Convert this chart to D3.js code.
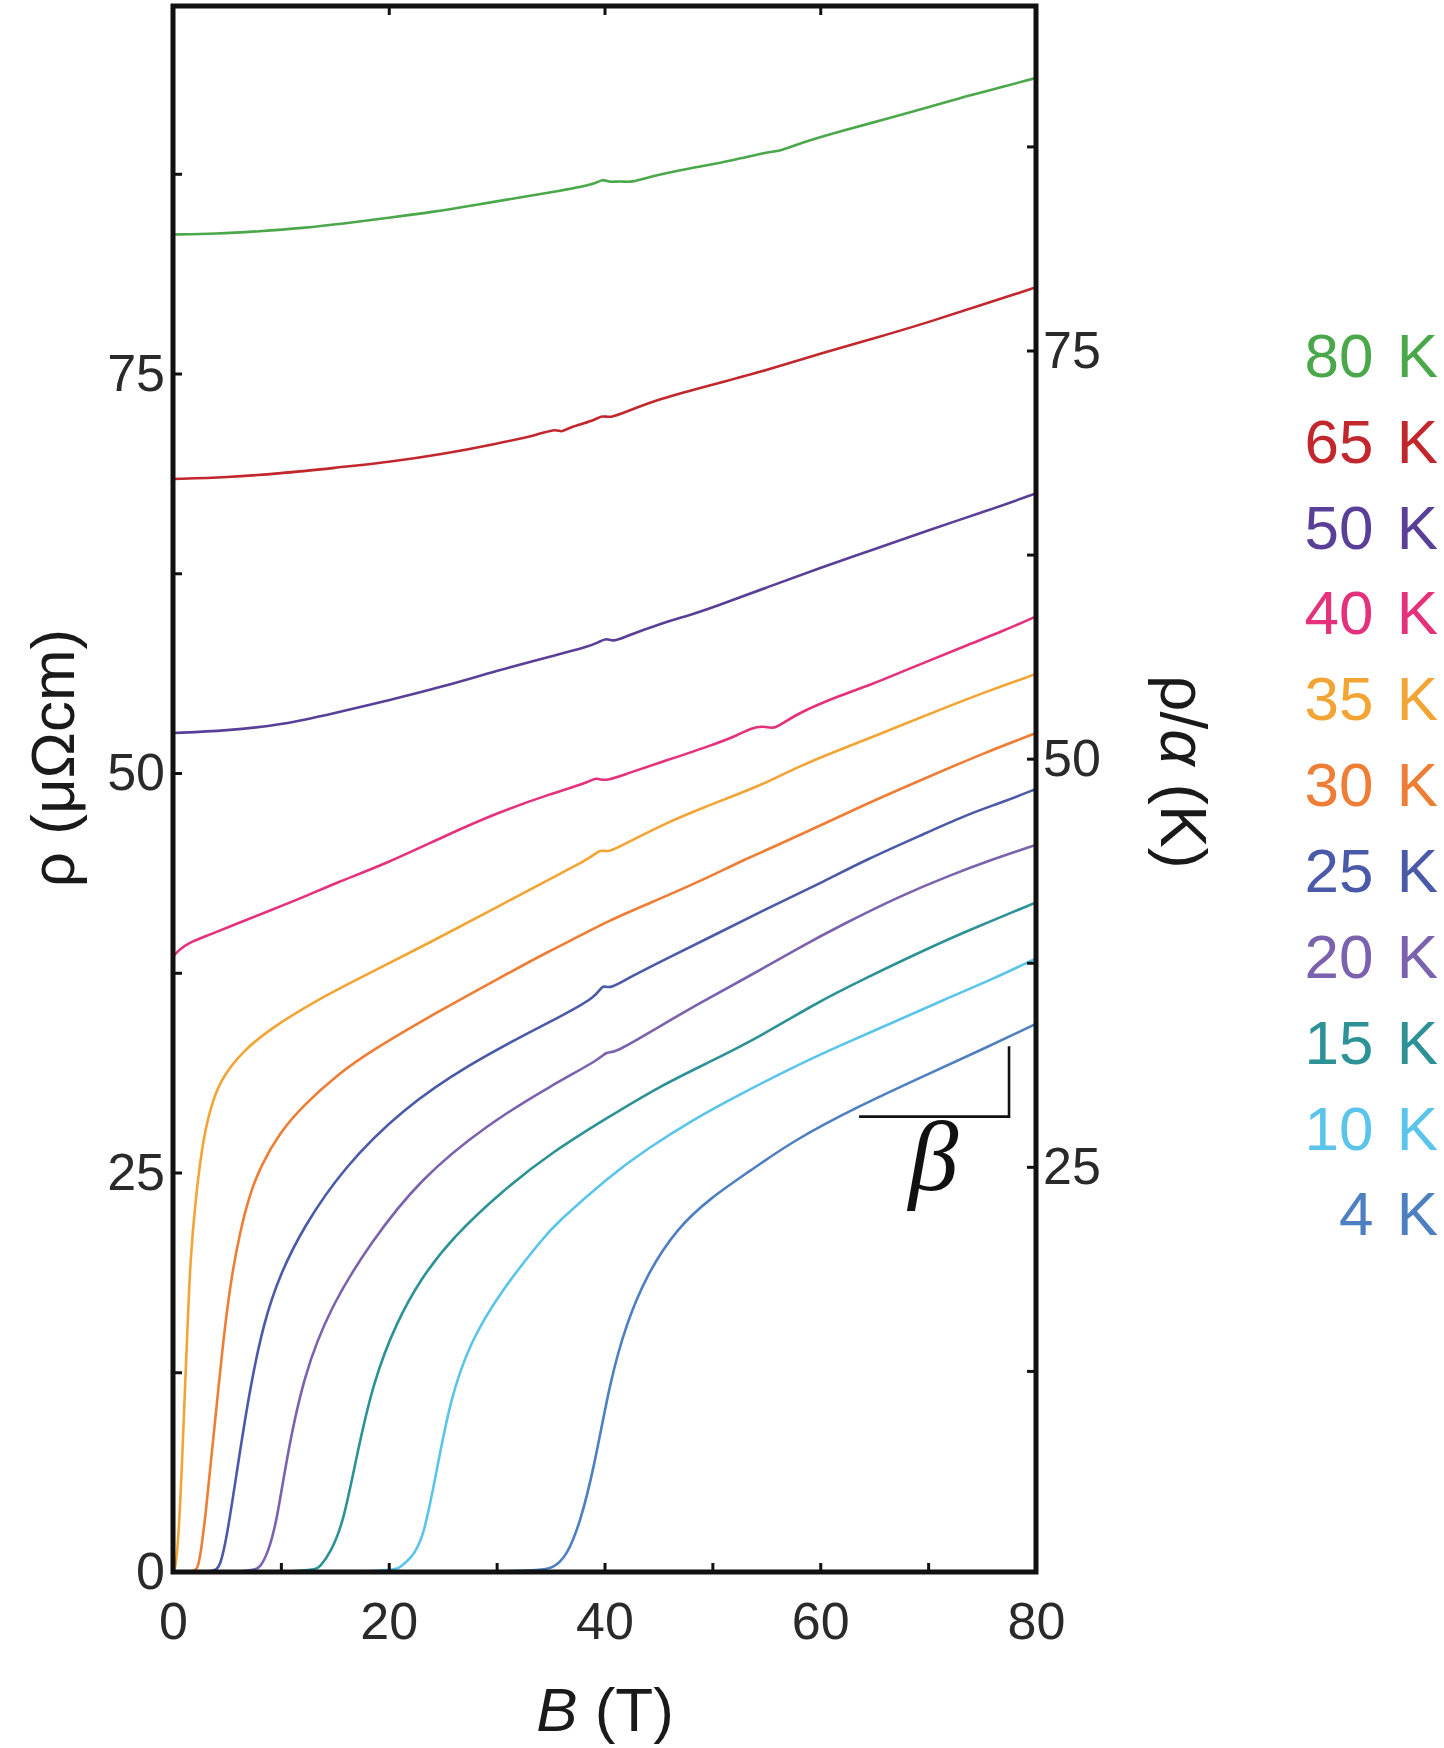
<!DOCTYPE html>
<html><head><meta charset="utf-8">
<script src="https://cdn.jsdelivr.net/npm/d3@7"></script>
<style>
body{margin:0;background:#fff}
svg{display:block}
text{font-family:"Liberation Sans",Arial,Helvetica,sans-serif}
</style>
</head><body>
<svg id="c" width="1444" height="1748"></svg>
<script>
// ---- data (B in T, rho in µΩcm) ----
const temperatures = ["80 K","65 K","50 K","40 K","35 K","30 K","25 K","20 K","15 K","10 K","4 K"];
const colors = ["#4aa84a","#c1272d","#5a3f98","#e5317b","#f2a535","#ee7d35","#4a5aa8","#7b62ae","#2c9296","#5bc4ea","#4d7fc1"];

const rho80K = [[0,83.7],[4,83.75],[8,83.9],[12,84.1],[16,84.4],[20,84.75],[24,85.1],[28,85.55],[32,86.0],[36,86.45],[39.2,86.85],[39.8,87.2],[40.4,86.95],[41.5,87.05],[42.5,86.95],[44,87.3],[48,87.85],[52,88.35],[55,88.85],[56.5,88.95],[58,89.4],[62,90.2],[66,90.9],[70,91.65],[74,92.45],[77,92.95],[80,93.5]];
const rho65K = [[0,68.4],[5,68.5],[10,68.75],[15,69.1],[20,69.45],[25,69.95],[30,70.6],[34,71.2],[35.5,71.55],[36,71.3],[36.6,71.6],[39,72.05],[39.8,72.4],[40.5,72.2],[42,72.6],[45,73.4],[50,74.3],[55,75.2],[60,76.25],[65,77.2],[70,78.2],[75,79.3],[80,80.4]];
const rho50K = [[0,52.5],[5,52.65],[10,53.0],[15,53.75],[20,54.55],[25,55.4],[30,56.4],[35,57.3],[38.5,57.9],[39.5,58.2],[40.2,58.45],[40.8,58.2],[42,58.55],[45,59.3],[48,59.9],[50,60.35],[55,61.6],[60,62.85],[65,64.0],[70,65.2],[75,66.3],[80,67.5]];
const rho40K = [[0,38.5],[0.5,38.9],[1.5,39.4],[3.5,39.9],[6,40.6],[9,41.4],[12,42.2],[15,43.1],[20,44.4],[25,46.0],[30,47.5],[35,48.7],[38.5,49.4],[39.2,49.75],[40,49.45],[42,49.95],[45.8,50.8],[49.8,51.7],[52.5,52.4],[53.5,52.8],[54.8,52.95],[55.6,52.75],[56.5,53.1],[58.1,53.8],[62,54.9],[65,55.6],[67.4,56.3],[70,57.0],[73.6,58.0],[77,58.9],[80,59.8]];
const rho35K = [[0,0],[0.2,0.1],[0.5,2],[0.8,6.2],[1.05,10.5],[1.3,14.5],[1.6,19.6],[2.1,23.4],[2.8,27.2],[3.7,29.6],[4.7,31.1],[6.5,32.6],[9,34.0],[13.6,35.9],[18.3,37.5],[24.4,39.6],[30,41.6],[35,43.4],[38.8,44.7],[39.6,45.25],[40.3,45.0],[42,45.6],[45.8,46.9],[49,47.8],[52.5,48.7],[55,49.4],[58,50.4],[61.2,51.3],[65,52.3],[70.5,53.8],[75,55.0],[80,56.2]];
const rho30K = [[0,0],[2.0,0],[2.35,0.3],[2.7,1.8],[3.1,4.1],[3.6,7.5],[4.05,10.4],[4.8,15.4],[5.5,18.8],[6.2,21.2],[7,23.4],[8.1,25.4],[10,27.6],[12.1,29.2],[15,31.0],[18.3,32.6],[24.4,35.0],[30.6,37.3],[35,38.9],[38,39.9],[40.2,40.7],[44,41.8],[48.8,43.2],[53,44.6],[58.1,46.1],[64,48.0],[70.5,49.9],[75,51.2],[80,52.5]];
const rho25K = [[0,0],[3.8,0],[4.36,0.3],[5.0,2.2],[5.9,6.2],[7.1,11.4],[8.4,15.6],[9.9,18.6],[12.1,21.6],[15.8,25.3],[21.3,29.0],[27.5,31.8],[33.7,34.0],[36,34.8],[39.3,36.0],[39.8,36.8],[40.4,36.45],[42,37.1],[45.8,38.4],[50,39.8],[55,41.5],[60,43.1],[64.3,44.6],[70,46.3],[73.6,47.4],[77,48.2],[80,49.0]];
const rho20K = [[0,0],[7.4,0],[8.1,0.3],[8.8,1.2],[9.6,3.1],[10.5,7.0],[12.1,12.3],[14.6,16.6],[18.3,20.6],[22.9,24.6],[29.1,28.0],[35.2,30.5],[39.6,32.1],[40.2,32.6],[40.8,32.4],[45,34.1],[48.8,35.6],[53.2,37.2],[58.1,39.1],[62,40.5],[67.4,42.3],[72,43.6],[76,44.6],[80,45.5]];
const rho15K = [[0,0],[13.0,0],[13.6,0.3],[14.6,1.2],[15.8,3.1],[17.0,7.2],[18.6,12.0],[20.7,15.6],[23.0,18.4],[26.0,21.0],[30.6,23.9],[35.2,26.3],[40.2,28.4],[45.1,30.4],[50,32.0],[54.4,33.5],[59.6,35.6],[63.7,37.0],[70.5,39.2],[75,40.5],[80,41.9]];
const rho10K = [[0,0],[20.5,0],[21.0,0.3],[22.0,0.8],[23.2,2.0],[24.4,6.2],[25.7,10.8],[27.5,14.3],[30.2,17.4],[34.3,20.9],[35.5,21.8],[40.5,24.8],[44,26.5],[48.2,28.3],[52,29.7],[57.5,31.6],[62,33.0],[66.8,34.4],[71.4,35.8],[76,37.1],[80,38.4]];
const rho4K = [[0,0],[33.5,0],[35.2,0.2],[36.5,1.0],[37.7,3.0],[39.0,6.4],[40.5,11.9],[42.0,15.5],[43.9,18.6],[46.7,21.5],[49.8,23.4],[53.5,25.1],[57.5,27.0],[63.7,29.2],[69.8,31.1],[75,32.7],[80,34.3]];

const allSeries = [rho80K,rho65K,rho50K,rho40K,rho35K,rho30K,rho25K,rho20K,rho15K,rho10K,rho4K];

const xTicks = [0,10,20,30,40,50,60,70,80];
const xTopTicks = [20,40,60];
const yLeftTicks = [0,12.5,25,37.5,50,62.5,75,87.5];
const yRightTicks = [12.5,25,37.5,50,62.5,75,87.5];
const slopeBracket = [[63.6,28.5],[77.5,28.5],[77.5,32.9]];

// ---- layout ----
const L = 173, R = 1036, T = 6, Bm = 1572;
const svg = d3.select("#c");
const x = d3.scaleLinear().domain([0,80]).range([L,R]);
const yL = d3.scaleLinear().domain([0,98]).range([Bm,T]);
const yR = d3.scaleLinear().domain([0,96.1]).range([1575,T]);

svg.append("defs").append("clipPath").attr("id","clip")
  .append("rect").attr("x",L).attr("y",T).attr("width",R-L).attr("height",Bm-T);

const line = d3.line().x(d=>x(d[0])).y(d=>yL(d[1])).curve(d3.curveBasis);
const g = svg.append("g").attr("clip-path","url(#clip)");
allSeries.forEach((s,i)=>{
  g.append("path").datum(s).attr("d",line)
   .attr("fill","none").attr("stroke",colors[i]).attr("stroke-width",2.6)
   .attr("stroke-linejoin","round");
});

// slope bracket
svg.append("path").datum(slopeBracket)
  .attr("d", d3.line().x(d=>x(d[0])).y(d=>yL(d[1])))
  .attr("fill","none").attr("stroke","#111").attr("stroke-width",2.6);
svg.append("text").attr("x",x(70.5)).attr("y",yL(23.9))
  .attr("text-anchor","middle")
  .style("font-family","'Liberation Serif','DejaVu Serif',serif")
  .style("font-style","italic").style("font-size","100px").attr("fill","#111")
  .text("β");

// axes
function styleAxis(sel, fs){
  sel.select(".domain").remove();
  sel.selectAll(".tick line").attr("stroke","#111").attr("stroke-width",3);
  sel.selectAll(".tick text").attr("fill","#2a2a2a").style("font-size",fs+"px")
     .style("font-family","'Liberation Sans',Arial,sans-serif");
}
const ax = svg.append("g").attr("transform",`translate(0,${Bm})`)
  .call(d3.axisBottom(x).tickValues(xTicks).tickSize(-9).tickPadding(30)
        .tickFormat(d=> d%20===0 ? d : ""));
styleAxis(ax,52);
const axt = svg.append("g").attr("transform",`translate(0,${T})`)
  .call(d3.axisTop(x).tickValues(xTopTicks).tickSize(-9).tickFormat(""));
styleAxis(axt,52);
const ayl = svg.append("g").attr("transform",`translate(${L},0)`)
  .call(d3.axisLeft(yL).tickValues(yLeftTicks).tickSize(-9).tickPadding(8)
        .tickFormat(d=> d%25===0 ? d : ""));
styleAxis(ayl,52);
const ayr = svg.append("g").attr("transform",`translate(${R},0)`)
  .call(d3.axisRight(yR).tickValues(yRightTicks).tickSize(-9).tickPadding(7)
        .tickFormat(d=> d%25===0 ? d : ""));
styleAxis(ayr,52);

// frame
svg.append("rect").attr("x",L).attr("y",T).attr("width",R-L).attr("height",Bm-T)
  .attr("fill","none").attr("stroke","#111").attr("stroke-width",5);

// axis titles
const bt = svg.append("text").attr("x",605).attr("y",1731).attr("text-anchor","middle")
  .style("font-size","62px").attr("fill","#1a1a1a");
bt.append("tspan").style("font-style","italic").text("B");
bt.append("tspan").text(" (T)");

svg.append("text").attr("transform","translate(52,758) rotate(-90)")
  .attr("text-anchor","middle").attr("dy","0.35em")
  .style("font-size","62px").attr("fill","#1a1a1a").text("ρ (μΩcm)");

const rt = svg.append("text").attr("transform","translate(1183,772) rotate(90)")
  .attr("text-anchor","middle").attr("dy","0.35em")
  .style("font-size","64px").attr("fill","#1a1a1a");
rt.append("tspan").text("ρ/");
rt.append("tspan").style("font-style","italic").text("α");
rt.append("tspan").text(" (K)");

// legend
svg.append("g").selectAll("text").data(temperatures).join("text")
  .attr("x",1438).attr("y",(d,i)=>354.6 + i*85.85)
  .attr("dy","0.36em").attr("text-anchor","end")
  .style("font-size","62px").attr("fill",(d,i)=>colors[i])
  .style("word-spacing","6px")
  .text(d=>d);
</script>
</body></html>
